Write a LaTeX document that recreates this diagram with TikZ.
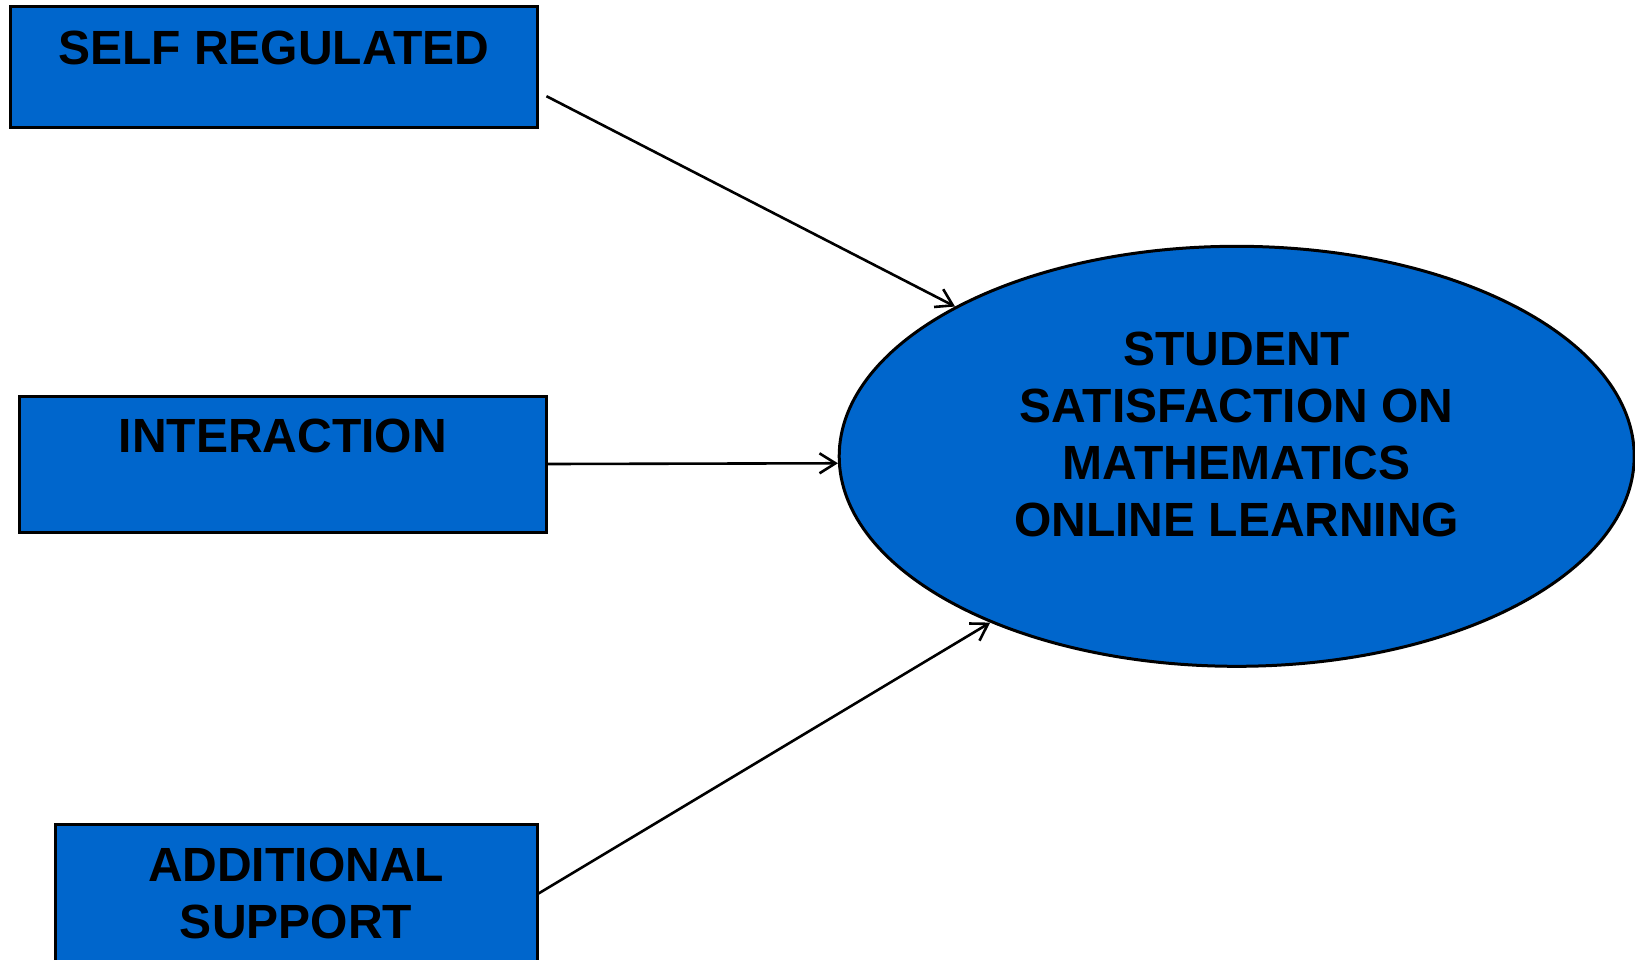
\documentclass[tikz,border=0pt]{standalone}
\usepackage{fontspec}
\setmainfont{Liberation Sans}
\usetikzlibrary{arrows.meta}
\usetikzlibrary{shapes}
\definecolor{factorblue}{RGB}{0,102,204}
\tikzset{
        boxnode/.style={align=center,inner sep=0pt,font=\fontsize{48}{57}\selectfont\bfseries},
        % Predictor boxes
        node_factor/.style={boxnode, rectangle, draw=black, line width=3pt, fill=factorblue},
        % Outcome ellipse
        node_outcome/.style={boxnode, ellipse, draw=black, line width=3pt, fill=factorblue, minimum width=795pt, minimum height=420pt},
        % Outcome text
        node_text/.style={boxnode}
}

\begin{document}
\begin{tikzpicture}[
            x=1pt, y=-1pt,
            >={Straight Barb[length=16pt,width=20pt]},
            line width=2.6pt
        ]
            \useasboundingbox (0,0) rectangle (1635,959);
            \node[node_factor, minimum width=526.6pt, text height=58.5pt, text depth=62.2pt] (selfreg) at (273.7,66.7) {SELF REGULATED};
            \node[node_factor, minimum width=526.2pt, text height=56pt, text depth=80pt] (interaction) at (282.9,464) {INTERACTION};
            \node[node_factor, minimum width=482pt, minimum height=139pt] (support) at (296,893.5) {ADDITIONAL\\SUPPORT};
            \node[node_outcome] (outcome) at (1236.7,456.3) {};
            \node[node_text, yshift=21.4pt] (outcome_text) at (outcome.center) {STUDENT\\SATISFACTION ON\\MATHEMATICS\\ONLINE LEARNING};
            \coordinate (selfreg_out) at ([shift={(8,29.5)}]selfreg.east);
            \draw[->] (selfreg_out) -- (outcome.152.4);
            \draw[->] (interaction.east) -- (outcome.181.3);
            \draw[->] (support.east) -- (outcome.214);
        \end{tikzpicture}
\end{document}
